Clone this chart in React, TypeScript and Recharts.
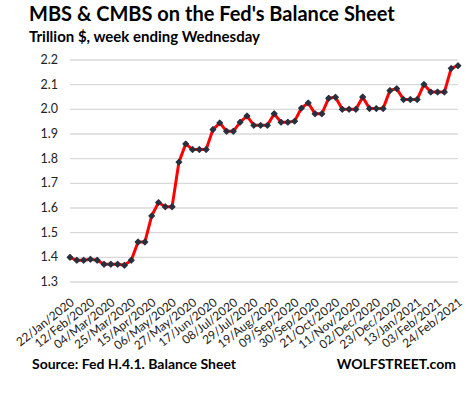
import React from 'react';
import { LineChart, Line, XAxis, YAxis, CartesianGrid } from 'recharts';

const dates: string[] = [
  '22/Jan/2020', '29/Jan/2020', '05/Feb/2020', '12/Feb/2020', '19/Feb/2020', '26/Feb/2020',
  '04/Mar/2020', '11/Mar/2020', '18/Mar/2020', '25/Mar/2020', '01/Apr/2020', '08/Apr/2020',
  '15/Apr/2020', '22/Apr/2020', '29/Apr/2020', '06/May/2020', '13/May/2020', '20/May/2020',
  '27/May/2020', '03/Jun/2020', '10/Jun/2020', '17/Jun/2020', '24/Jun/2020', '01/Jul/2020',
  '08/Jul/2020', '15/Jul/2020', '22/Jul/2020', '29/Jul/2020', '05/Aug/2020', '12/Aug/2020',
  '19/Aug/2020', '26/Aug/2020', '02/Sep/2020', '09/Sep/2020', '16/Sep/2020', '23/Sep/2020',
  '30/Sep/2020', '07/Oct/2020', '14/Oct/2020', '21/Oct/2020', '28/Oct/2020', '04/Nov/2020',
  '11/Nov/2020', '18/Nov/2020', '25/Nov/2020', '02/Dec/2020', '09/Dec/2020', '16/Dec/2020',
  '23/Dec/2020', '30/Dec/2020', '06/Jan/2021', '13/Jan/2021', '20/Jan/2021', '27/Jan/2021',
  '03/Feb/2021', '10/Feb/2021', '17/Feb/2021', '24/Feb/2021',
];

const mbs: number[] = [
  1.400, 1.388, 1.388, 1.392, 1.388, 1.372, 1.372, 1.372, 1.368, 1.388,
  1.462, 1.462, 1.568, 1.622, 1.605, 1.605, 1.786, 1.860, 1.837, 1.837,
  1.837, 1.918, 1.945, 1.911, 1.911, 1.948, 1.973, 1.935, 1.935, 1.935,
  1.982, 1.948, 1.948, 1.952, 2.005, 2.026, 1.982, 1.982, 2.045, 2.049,
  2.000, 2.000, 2.000, 2.050, 2.003, 2.003, 2.003, 2.076, 2.084, 2.040,
  2.040, 2.040, 2.101, 2.070, 2.070, 2.070, 2.166, 2.177,
];

const yTicks: number[] = [1.3, 1.4, 1.5, 1.6, 1.7, 1.8, 1.9, 2.0, 2.1, 2.2];

const title = "MBS & CMBS on the Fed's Balance Sheet";
const subtitle = 'Trillion $, week ending Wednesday';
const source = 'Source: Fed H.4.1. Balance Sheet';
const brand = 'WOLFSTREET.com';

const data = dates.map((d, i) => ({ date: d, value: mbs[i] }));

const FONT = 'Lato, "Open Sans", sans-serif';

const XTick = (props: any) => {
  const { x, y, payload } = props;
  return (
    <g transform={`translate(${x + 5},${y + 20})`}>
      <text
        x={0}
        y={0}
        textAnchor="end"
        transform="rotate(-38)"
        fontFamily={FONT}
        fontSize={12}
        fill="#222"
      >
        {payload.value}
      </text>
    </g>
  );
};

const YTick = (props: any) => {
  const { y, payload } = props;
  return (
    <text x={58} y={y + 4} textAnchor="end" fontFamily={FONT} fontSize={12.5} fill="#222">
      {payload.value.toFixed(1)}
    </text>
  );
};

const Diamond = (props: any) => {
  const { cx, cy } = props;
  if (cx == null || cy == null) return null;
  const s = 2.8;
  return (
    <path
      d={`M${cx},${cy - s} L${cx + s},${cy} L${cx},${cy + s} L${cx - s},${cy} Z`}
      fill="#27303e"
      stroke="#27303e"
      strokeWidth={1.2}
      strokeLinejoin="round"
    />
  );
};

export default function App() {
  return (
    <div style={{ position: 'absolute', left: 0, top: 0, width: 467, height: 393, background: '#fff' }}>
      <LineChart
        width={467}
        height={393}
        data={data}
        margin={{ top: 60, right: 9, bottom: 0, left: 0 }}
      >
        <CartesianGrid vertical={false} stroke="#d9d9d9" strokeWidth={1.3} />
        <XAxis
          dataKey="date"
          interval={2}
          axisLine={false}
          tickLine={false}
          tickSize={0}
          tick={<XTick />}
          height={111}
        />
        <YAxis
          domain={[1.3, 2.2]}
          ticks={yTicks}
          axisLine={false}
          tickLine={false}
          width={70}
          tick={<YTick />}
          interval={0}
        />
        <Line
          type="linear"
          dataKey="value"
          stroke="#ff0000"
          strokeWidth={3}
          dot={<Diamond />}
          isAnimationActive={false}
        />
      </LineChart>
      <svg
        width={467}
        height={393}
        style={{ position: 'absolute', left: 0, top: 0, pointerEvents: 'none' }}
      >
        <text x={29} y={21} fontFamily={FONT} fontWeight={700} fontSize={20} fill="#000">
          {title}
        </text>
        <text x={29} y={42} fontFamily={FONT} fontWeight={700} fontSize={15} fill="#000">
          {subtitle}
        </text>
        <text x={32} y={369} fontFamily={FONT} fontWeight={700} fontSize={14} fill="#000">
          {source}
        </text>
        <text x={456} y={369} textAnchor="end" fontFamily={FONT} fontWeight={700} fontSize={14} fill="#000">
          {brand}
        </text>
      </svg>
    </div>
  );
}
